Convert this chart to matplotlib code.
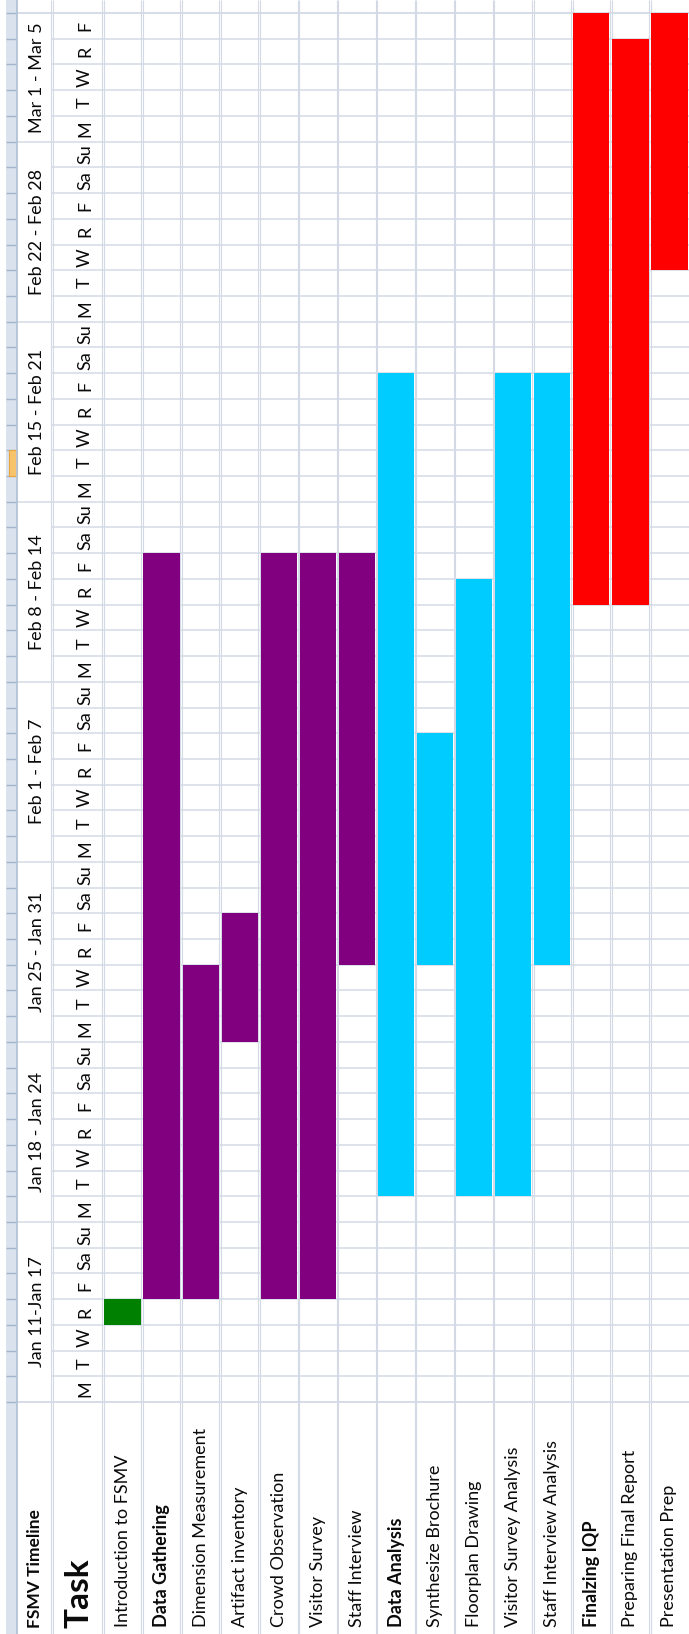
import matplotlib.pyplot as plt
from matplotlib.patches import Rectangle

plt.rcParams['font.family'] = ['Lato', 'DejaVu Sans']

# tasks, one sheet row each
tasks = ["Introduction to FSMV", "Data Gathering", "Dimension Measurement",
         "Artifact inventory", "Crowd Observation", "Visitor Survey",
         "Staff Interview", "Data Analysis", "Synthesize Brochure",
         "Floorplan Drawing", "Visitor Survey Analysis",
         "Staff Interview Analysis", "Finalzing IQP",
         "Preparing Final Report", "Presentation Prep"]
group_rows = ["Data Gathering", "Data Analysis", "Finalzing IQP"]

# day index 0 = Mon Jan 11, last day = Fri Mar 5 (inclusive ranges)
start_day = [3, 4, 4, 14, 4, 4, 17, 8, 17, 8, 8, 17, 31, 31, 44]
end_day = [3, 32, 16, 18, 32, 32, 32, 39, 25, 31, 39, 39, 53, 52, 53]
bar_colors = ['#008000'] + ['#800080'] * 6 + ['#00ccff'] * 5 + ['#ff0000'] * 3

day_letters = ['M', 'T', 'W', 'R', 'F', 'Sa', 'Su']
n_days = 54
week_labels = ["Jan 11-Jan 17", "Jan 18 - Jan 24", "Jan 25 - Jan 31",
               "Feb 1 - Feb 7", "Feb 8 - Feb 14", "Feb 15 - Feb 21",
               "Feb 22 - Feb 28", "Mar 1 - Mar 5"]
week_lengths = [7, 7, 7, 7, 7, 7, 7, 5]

# sheet layout in pixels
W, H = 689, 1634
ROW0 = 103
ROW_W = (W - ROW0) / len(tasks)
DAY0 = 1402
DAY_H = (DAY0 - 13) / n_days


def px_x(p):
    return (p - ROW0) / ROW_W


def px_y(p):
    return (DAY0 - p) / DAY_H


fig = plt.figure(figsize=(W / 100, H / 100), dpi=100)
ax = fig.add_axes([0, 0, 1, 1])
ax.set_xlim(px_x(0), px_x(W))
ax.set_ylim(px_y(H), px_y(0))
ax.axis('off')

grid = '#d3dae6'
ytop, ybot = px_y(0), px_y(H)

# row-header strip on the left
ax.add_patch(Rectangle((px_x(6), ybot), px_x(17) - px_x(6), ytop - ybot,
                       color='#dae2ed', lw=0, zorder=1))
ax.hlines(range(0, n_days + 1), px_x(6), px_x(17), color='#a3b5cc', lw=1.0, zorder=2)
ax.add_patch(Rectangle((px_x(9), 36), px_x(17) - px_x(9), 1,
                       facecolor='#f7c46c', edgecolor='#e9a540', lw=0.8, zorder=2))
ax.vlines(px_x(17), ybot, ytop, color='#b3c3d7', lw=1.3, zorder=2)

# vertical grid (slightly doubled, as rendered by the sheet)
for xv in [px_x(52), px_x(103)] + list(range(1, len(tasks))):
    for off in (-0.8, 0.8):
        ax.vlines(xv + off / ROW_W, ybot, ytop, color=grid, lw=0.8, zorder=1)

# horizontal grid
ax.hlines(range(1, n_days), px_x(52), len(tasks), color=grid, lw=1.1, zorder=1)
ax.hlines([0, n_days], px_x(17), len(tasks), color=grid, lw=1.3, zorder=1)
edges = [sum(week_lengths[:k]) for k in range(1, len(week_lengths))]
ax.hlines(edges, px_x(17), px_x(52), color=grid, lw=1.1, zorder=1)

# task bars
for i, (s, e, c) in enumerate(zip(start_day, end_day, bar_colors)):
    ax.bar(i + 0.5, e - s + 1, bottom=s, width=0.93, color=c, lw=0, zorder=3)

txt = dict(rotation=90, rotation_mode='anchor', color='#0a0a0a', zorder=4)

# header texts
ax.text(px_x(35), px_y(1628), 'FSMV Timeline', ha='left', va='center',
        fontsize=12.5, fontweight='bold', **txt)
ax.text(px_x(79), px_y(1628), 'Task', ha='left', va='center',
        fontsize=24, fontweight='bold', **txt)

# week labels and day letters
d0 = 0
for label, n in zip(week_labels, week_lengths):
    ax.text(px_x(37), d0 + n / 2, label, ha='center', va='center', fontsize=13, **txt)
    d0 += n
for d in range(n_days):
    ax.text(px_x(85), d + 0.5, day_letters[d % 7], ha='center', va='center',
            fontsize=13, **txt)

# task names
for i, name in enumerate(tasks):
    ax.text(i + 0.5, px_y(1627), name, ha='left', va='center', fontsize=13,
            fontweight='bold' if name in group_rows else 'normal', **txt)

fig.savefig('out.png', dpi=100)
